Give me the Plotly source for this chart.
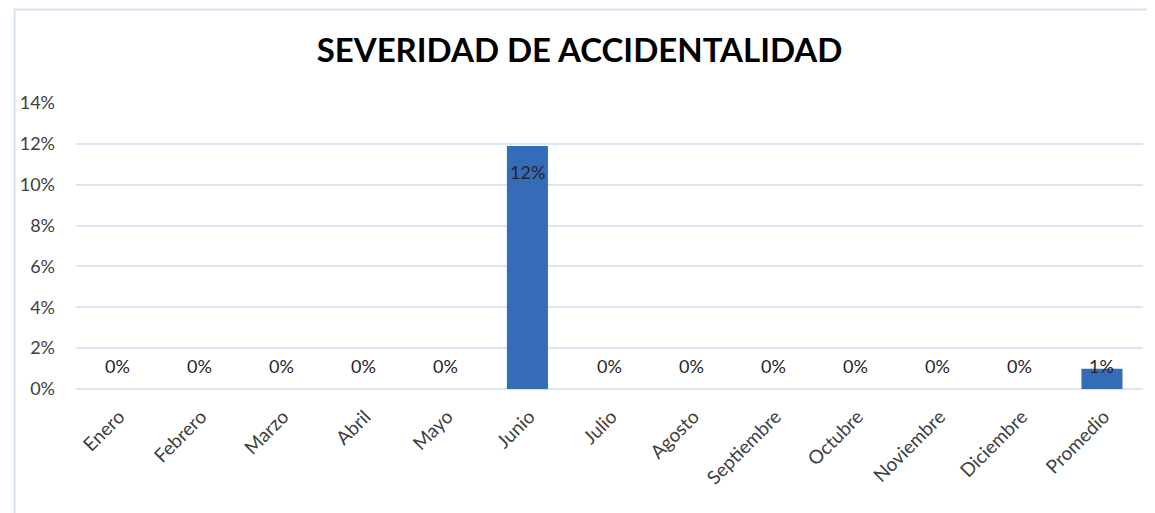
import plotly.graph_objects as go

# datos
meses = ['Enero', 'Febrero', 'Marzo', 'Abril', 'Mayo', 'Junio', 'Julio',
         'Agosto', 'Septiembre', 'Octubre', 'Noviembre', 'Diciembre', 'Promedio']
severidad = [0, 0, 0, 0, 0, 0.119, 0, 0, 0, 0, 0, 0, 0.0099]
etiquetas = ['0%', '0%', '0%', '0%', '0%', '12%', '0%', '0%', '0%', '0%', '0%', '0%', '1%']
ticks_y = [0, 0.02, 0.04, 0.06, 0.08, 0.10, 0.12, 0.14]

fig = go.Figure()
fig.add_trace(go.Bar(
    x=meses, y=severidad,
    marker=dict(color='#346cb8', line=dict(width=0)),
    width=0.5, hoverinfo='x+y'
))

# etiquetas de datos (las barras pequeñas llevan la etiqueta sobre el eje)
for mes, valor, txt in zip(meses, severidad, etiquetas):
    grande = valor > 0.05
    fig.add_annotation(x=mes, y=valor if grande else 0, text=txt, showarrow=False,
                       yanchor='middle', yshift=-26 if grande else 23,
                       font=dict(family='Lato', size=18, color='#262626'))

# borde del área del gráfico
fig.add_shape(type='rect', xref='paper', yref='paper',
              x0=-0.0575, x1=1.03, y0=-0.5, y1=1.3269,
              line=dict(color='#d6e3f3', width=2), layer='below')

fig.update_layout(
    width=1155, height=513,
    margin=dict(l=61, r=20, t=95, b=132),
    paper_bgcolor='white', plot_bgcolor='white',
    title=dict(text='<b>SEVERIDAD DE ACCIDENTALIDAD</b>', x=0.4948, xanchor='center',
               y=0.918, yanchor='middle',
               font=dict(family='Lato', size=33, color='black')),
    showlegend=False,
    xaxis=dict(tickangle=-45, tickfont=dict(family='Lato', size=19, color='#404040'),
               showgrid=False, showline=False, ticks='', ticklabelshift=2,
               ticklabelstandoff=12),
    yaxis=dict(range=[0, 0.14], tickvals=ticks_y, tickformat='.0%',
               tickfont=dict(family='Lato', size=18, color='#404040'),
               gridcolor='#dbe6f4', gridwidth=2, zeroline=True,
               zerolinecolor='#dbe6f4', zerolinewidth=2, ticks='', ticklabelstandoff=20)
)

fig.write_html('out.html')
